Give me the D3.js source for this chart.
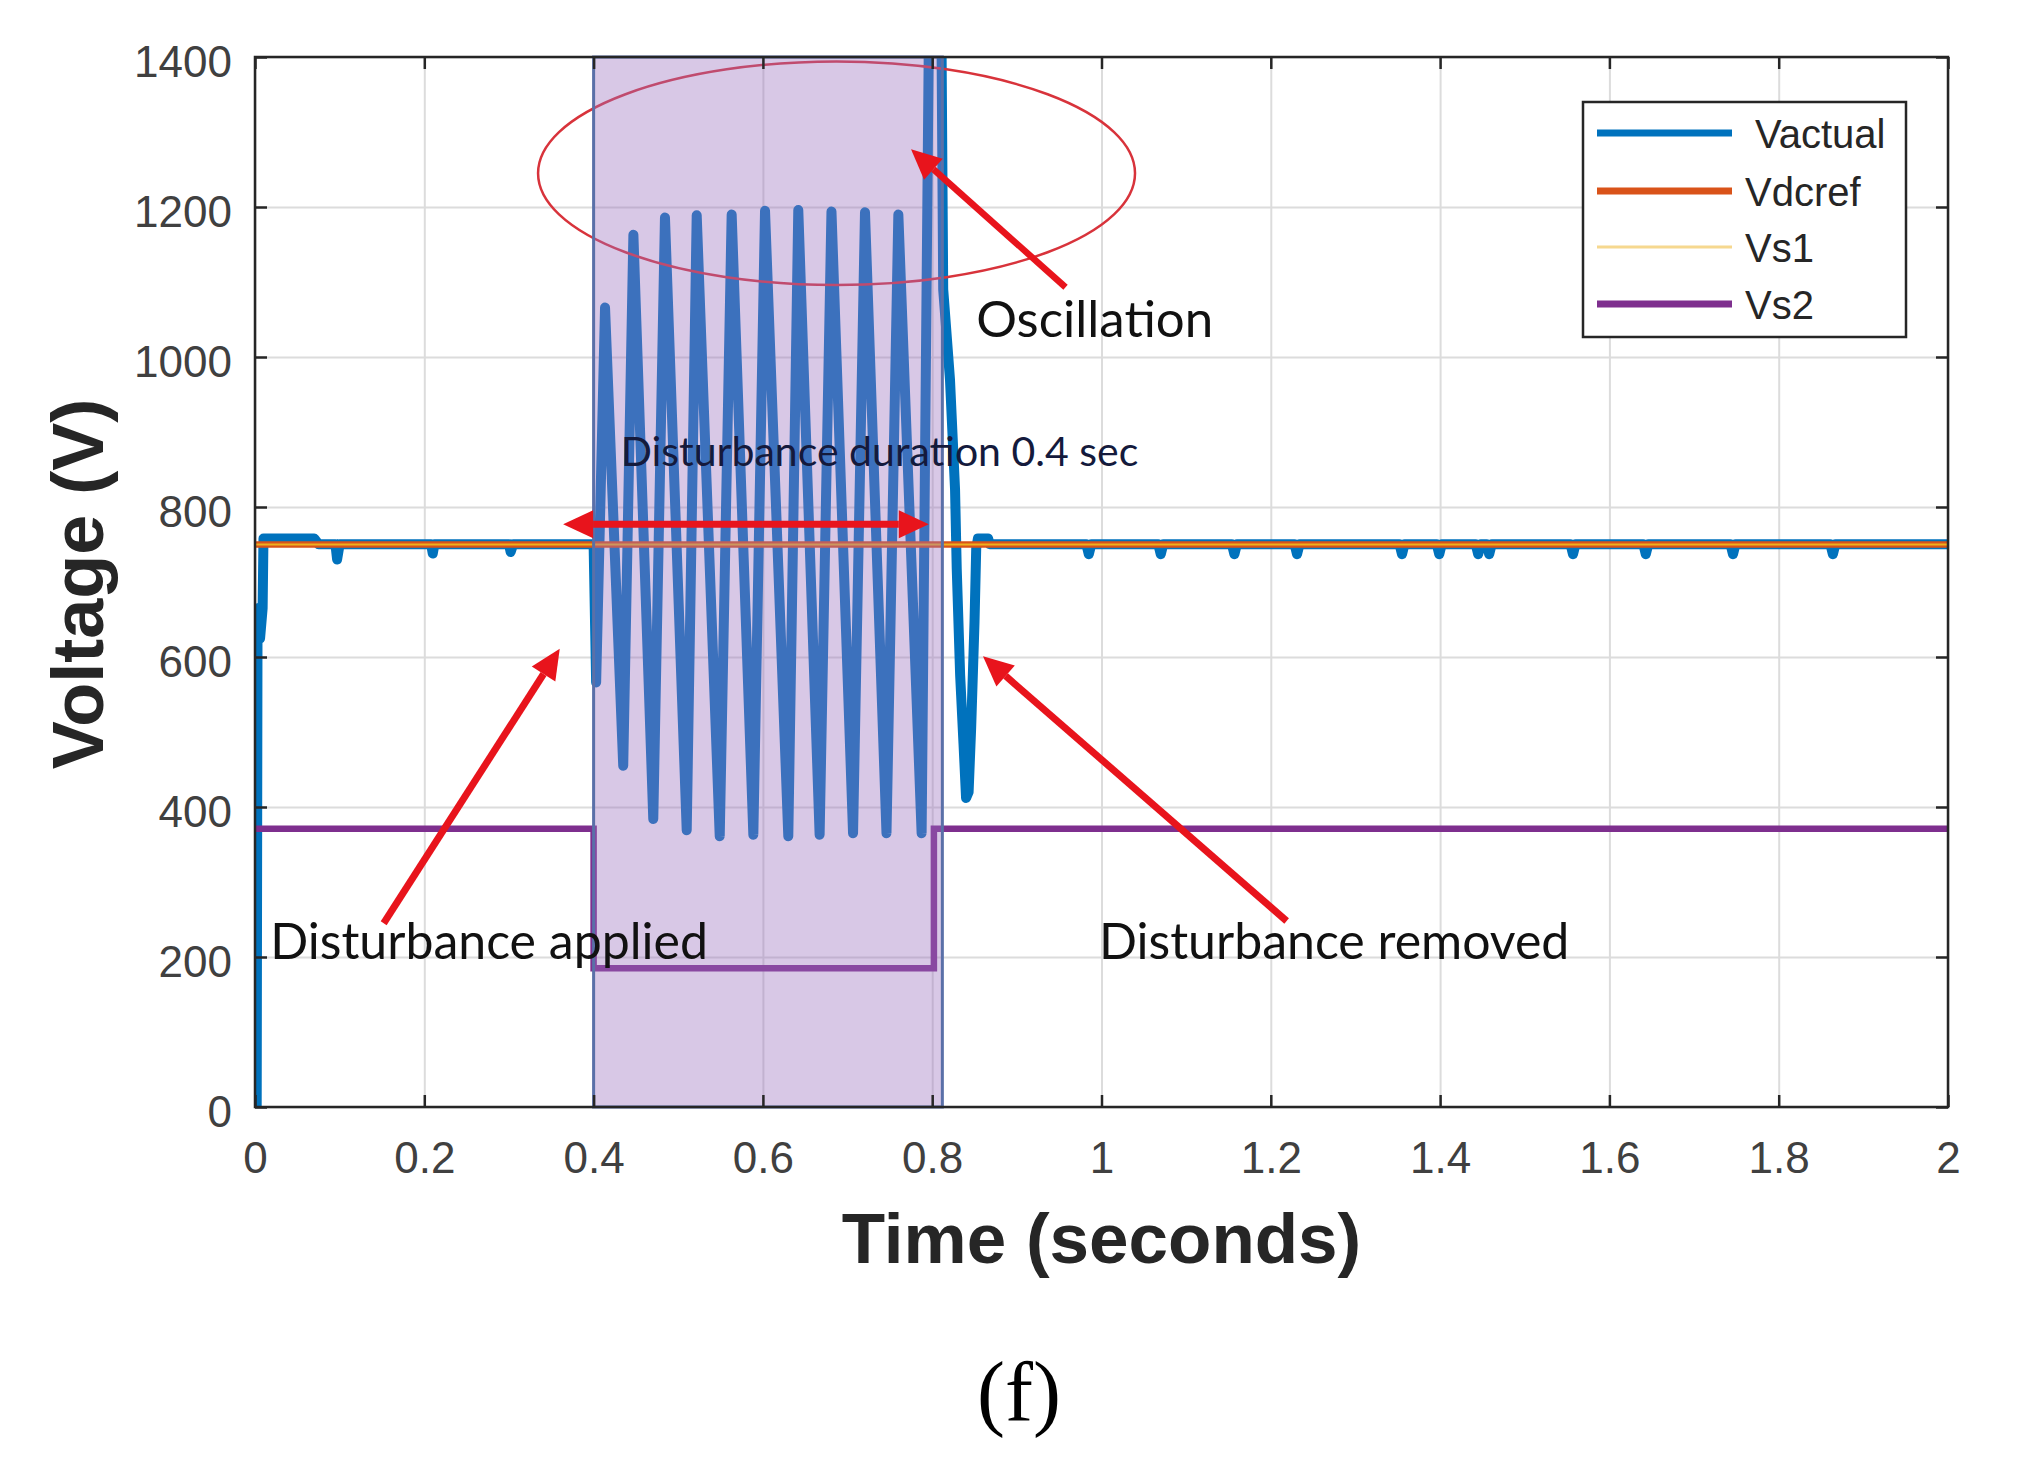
<!DOCTYPE html>
<html>
<head>
<meta charset="utf-8">
<script src="https://cdn.jsdelivr.net/npm/d3@7"></script>
<style>
  body { margin: 0; background: #fff; }
</style>
</head>
<body>
<div id="chart"></div>
<script>
// ---- data ----
const xTicks = [0, 0.2, 0.4, 0.6, 0.8, 1, 1.2, 1.4, 1.6, 1.8, 2];
const yTicks = [0, 200, 400, 600, 800, 1000, 1200, 1400];

const seriesNames = ["Vactual", "Vdcref", "Vs1", "Vs2"];
const seriesColors = ["#0072BD", "#D95319", "#EDB120", "#7E2F8E"];

// Vactual: start-up, oscillation during the disturbance, recovery
const vactualStart = [
  [0, 0], [0.002, 0], [0.003, 665], [0.006, 625], [0.009, 665], [0.010, 758],
  [0.070, 758], [0.075, 750.5], [0.095, 750.5], [0.097, 730], [0.100, 750.5],
  [0.208, 750.5], [0.210, 738], [0.212, 750.5], [0.300, 750.5], [0.302, 740],
  [0.305, 750.5], [0.400, 750.5]
];
const vactualOsc = [
  [0.403, 566], [0.4135, 1066], [0.435, 455], [0.447, 1163], [0.4705, 384],
  [0.4843, 1186], [0.510, 369], [0.5218, 1189], [0.549, 361], [0.5631, 1190],
  [0.5887, 363], [0.6025, 1195], [0.630, 361], [0.6418, 1196], [0.667, 363],
  [0.681, 1194], [0.7065, 365], [0.7206, 1193], [0.746, 365], [0.760, 1190],
  [0.7875, 365], [0.796, 1420], [0.811, 1420]
];
const vactualRecovery = [
  [0.813, 1090], [0.821, 970], [0.827, 823], [0.829, 717], [0.833, 576],
  [0.837, 484], [0.840, 412], [0.843, 420], [0.846, 505], [0.850, 647],
  [0.852, 745], [0.854, 758], [0.866, 758], [0.868, 750.5]
];
const vactualDips = [0.985, 1.07, 1.157, 1.231, 1.355, 1.399, 1.445, 1.458, 1.557, 1.643, 1.746, 1.864];
const vactualDipValue = 737;
const vactualSteady = 750.5;

const vdcref = [[0, 750], [2, 750]];
const vs1 = [[0, 750], [2, 750]];
const vs2 = [[0, 371], [0.400, 371], [0.400, 185], [0.802, 185], [0.802, 371], [2, 371]];

const disturbance = [0.400, 0.812];

// ---- layout ----
const W = 2023, H = 1470;
const plot = { left: 255, right: 1948, top: 57, bottom: 1107 };

const svg = d3.select("#chart").append("svg")
  .attr("width", W).attr("height", H)
  .style("font-family", "'Liberation Sans', Arial, sans-serif");

const x = d3.scaleLinear().domain([0, 2]).range([plot.left, plot.right]);
const y = d3.scaleLinear().domain([0, 1400]).range([plot.bottom, plot.top]);
const plotW = plot.right - plot.left, plotH = plot.bottom - plot.top;

// grid
svg.append("g")
  .attr("transform", "translate(0," + plot.bottom + ")")
  .call(d3.axisBottom(x).tickValues(xTicks).tickSize(-plotH).tickFormat(""))
  .call(g => g.select(".domain").remove())
  .selectAll("line").attr("stroke", "#dcdcdc").attr("stroke-width", 2);
svg.append("g")
  .attr("transform", "translate(" + plot.left + ",0)")
  .call(d3.axisLeft(y).tickValues(yTicks).tickSize(-plotW).tickFormat(""))
  .call(g => g.select(".domain").remove())
  .selectAll("line").attr("stroke", "#dcdcdc").attr("stroke-width", 2);

// lines
svg.append("clipPath").attr("id", "plotclip")
  .append("rect").attr("x", plot.left).attr("y", plot.top)
  .attr("width", plotW).attr("height", plotH);

const line = d3.line().x(d => x(d[0])).y(d => y(d[1]));

let vactual = vactualStart.concat(vactualOsc, vactualRecovery);
vactualDips.forEach(t => {
  vactual.push([t - 0.003, vactualSteady], [t, vactualDipValue], [t + 0.003, vactualSteady]);
});
vactual.push([2, vactualSteady]);

const lines = svg.append("g").attr("clip-path", "url(#plotclip)");
lines.append("path").datum(vactual).attr("d", line)
  .attr("fill", "none").attr("stroke", seriesColors[0]).attr("stroke-width", 10)
  .attr("stroke-linejoin", "round");
lines.append("path").datum(vdcref).attr("d", line)
  .attr("fill", "none").attr("stroke", seriesColors[1]).attr("stroke-width", 6.5);
lines.append("path").datum(vs1).attr("d", line)
  .attr("fill", "none").attr("stroke", seriesColors[2]).attr("stroke-width", 2);
lines.append("path").datum(vs2).attr("d", line)
  .attr("fill", "none").attr("stroke", seriesColors[3]).attr("stroke-width", 6.5);

// oscillation ellipse (under the shaded patch)
const ell = { t: 0.687, v: 1245, rt: 0.3526, rv: 149 };
svg.append("ellipse")
  .attr("cx", x(ell.t)).attr("cy", y(ell.v))
  .attr("rx", x(ell.rt) - x(0)).attr("ry", y(0) - y(ell.rv))
  .attr("fill", "none").attr("stroke", "#d8333b").attr("stroke-width", 2.5);

// disturbance patch
svg.append("rect")
  .attr("x", x(disturbance[0])).attr("y", plot.top)
  .attr("width", x(disturbance[1]) - x(disturbance[0])).attr("height", plotH)
  .attr("fill", "rgb(155,114,191)").attr("fill-opacity", 0.39)
  .attr("stroke", "#5a70a8").attr("stroke-width", 3);

// axes box + ticks (inside, all four sides)
const tk = 12;
function styleAxis(g) {
  g.select(".domain").remove();
  g.selectAll(".tick line").attr("stroke", "#262626").attr("stroke-width", 2.5);
}
svg.append("g").attr("transform", "translate(0," + plot.bottom + ")")
  .call(d3.axisBottom(x).tickValues(xTicks).tickSize(-tk).tickPadding(35)
    .tickFormat(d3.format("~g")))
  .call(styleAxis)
  .selectAll("text").attr("font-size", 44).attr("fill", "#404040");
svg.append("g").attr("transform", "translate(0," + plot.top + ")")
  .call(d3.axisTop(x).tickValues(xTicks).tickSize(-tk).tickFormat(""))
  .call(styleAxis);
svg.append("g").attr("transform", "translate(" + plot.left + ",0)")
  .call(d3.axisLeft(y).tickValues(yTicks).tickSize(-tk).tickPadding(23)
    .tickFormat(d3.format("d")))
  .call(styleAxis)
  .selectAll("text").attr("font-size", 44).attr("fill", "#404040").attr("dy", "0.45em");
svg.append("g").attr("transform", "translate(" + plot.right + ",0)")
  .call(d3.axisRight(y).tickValues(yTicks).tickSize(-tk).tickFormat(""))
  .call(styleAxis);
svg.append("rect")
  .attr("x", plot.left).attr("y", plot.top).attr("width", plotW).attr("height", plotH)
  .attr("fill", "none").attr("stroke", "#262626").attr("stroke-width", 2.5);

// axis titles
svg.append("text")
  .attr("x", (plot.left + plot.right) / 2).attr("y", 1263)
  .attr("text-anchor", "middle").attr("font-size", 71).attr("font-weight", "bold")
  .attr("fill", "#262626").text("Time (seconds)");
svg.append("text")
  .attr("transform", "translate(103," + 584 + ") rotate(-90)")
  .attr("text-anchor", "middle").attr("font-size", 72).attr("font-weight", "bold")
  .attr("fill", "#262626").text("Voltage (V)");

// annotations (arrows in data units)
const arrows = [
  { from: [0.9575, 1093], to: [0.775, 1277], w: 6.5 },
  { from: [0.152, 245], to: [0.360, 611], w: 7 },
  { from: [1.2187, 248], to: [0.860, 601], w: 7 },
  { from: [0.600, 777], to: [0.364, 777], w: 7 },
  { from: [0.600, 777], to: [0.796, 777], w: 7 }
];
const red = "#e8141c";
const ann = svg.append("g");
arrows.forEach(a => {
  const x1 = x(a.from[0]), y1 = y(a.from[1]), x2 = x(a.to[0]), y2 = y(a.to[1]);
  const ang = Math.atan2(y2 - y1, x2 - x1);
  const hl = 30, hw = 14;
  const bx = x2 - hl * Math.cos(ang), by = y2 - hl * Math.sin(ang);
  ann.append("line").attr("x1", x1).attr("y1", y1).attr("x2", bx).attr("y2", by)
    .attr("stroke", red).attr("stroke-width", a.w);
  ann.append("path")
    .attr("d", "M" + x2 + "," + y2 +
      "L" + (bx + hw * Math.sin(ang)) + "," + (by - hw * Math.cos(ang)) +
      "L" + (bx - hw * Math.sin(ang)) + "," + (by + hw * Math.cos(ang)) + "Z")
    .attr("fill", red);
});

const notes = [
  { text: "Oscillation", t: 0.852, v: 1027, size: 51, color: "#111" },
  { text: "Disturbance duration 0.4 sec", t: 0.432, v: 855, size: 41, color: "#141a3c" },
  { text: "Disturbance applied", t: 0.018, v: 197, size: 50, color: "#111" },
  { text: "Disturbance removed", t: 0.997, v: 197, size: 50, color: "#111" }
];
ann.selectAll("text.note").data(notes).join("text")
  .attr("class", "note")
  .attr("x", d => x(d.t)).attr("y", d => y(d.v))
  .attr("font-family", "Lato, 'Open Sans', sans-serif")
  .attr("font-size", d => d.size).attr("fill", d => d.color)
  .text(d => d.text);

// legend
const leg = svg.append("g");
leg.append("rect").attr("x", 1583).attr("y", 102).attr("width", 323).attr("height", 235)
  .attr("fill", "#fff").attr("stroke", "#262626").attr("stroke-width", 2.5);
const legRows = [133, 191, 247, 304];
const legTextX = [1755, 1745, 1745, 1745];
const legWidths = [7, 7, 3, 7];
seriesNames.forEach((n, i) => {
  leg.append("line").attr("x1", 1597).attr("x2", 1732)
    .attr("y1", legRows[i]).attr("y2", legRows[i])
    .attr("stroke", seriesColors[i]).attr("stroke-width", legWidths[i])
    .attr("stroke-opacity", i === 2 ? 0.5 : 1);
  leg.append("text").attr("x", legTextX[i]).attr("y", legRows[i] + 15)
    .attr("font-size", 40).attr("fill", "#262626").text(n);
});

// panel caption
svg.append("text").attr("x", 1019).attr("y", 1420)
  .attr("text-anchor", "middle").attr("font-size", 84)
  .attr("font-family", "'Liberation Serif', 'Times New Roman', serif")
  .attr("fill", "#000").text("(f)");
</script>
</body>
</html>
